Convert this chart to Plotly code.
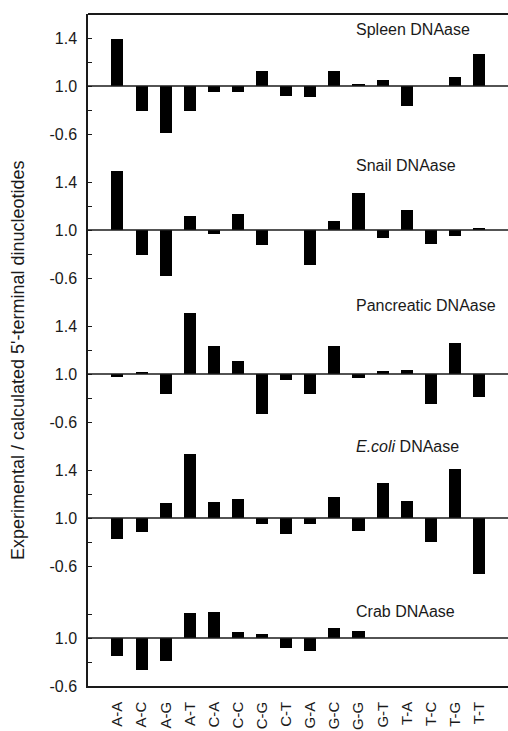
import plotly.graph_objects as go

# Dinucleotide categories along the x axis
dinucleotides = ["A-A", "A-C", "A-G", "A-T", "C-A", "C-C", "C-G", "C-T",
                 "G-A", "G-C", "G-G", "G-T", "T-A", "T-C", "T-G", "T-T"]

# Experimental / calculated ratios for each enzyme
spleen = [1.39, 0.79, 0.61, 0.79, 0.95, 0.95, 1.125, 0.92,
          0.905, 1.125, 1.014, 1.05, 0.833, 1.0, 1.072, 1.27]
snail = [1.49, 0.79, 0.614, 1.12, 0.967, 1.13, 0.878, 1.0,
         0.708, 1.072, 1.31, 0.933, 1.164, 0.88, 0.953, 1.02]
pancreatic = [0.978, 1.015, 0.83, 1.51, 1.236, 1.108, 0.67, 0.95,
              0.83, 1.235, 0.97, 1.025, 1.03, 0.75, 1.26, 0.81]
ecoli = [0.825, 0.886, 1.125, 1.53, 1.136, 1.158, 0.947, 0.864,
         0.95, 1.175, 0.89, 1.29, 1.14, 0.80, 1.41, 0.53]
crab = [0.847, 0.73, 0.81, 1.21, 1.215, 1.05, 1.035, 0.92,
        0.894, 1.083, 1.055, 1.0, 1.0, 1.0, 1.0, 1.0]

panel_names = ["Spleen DNAase", "Snail DNAase", "Pancreatic DNAase",
               "<i>E.coli</i> DNAase", "Crab DNAase"]
panel_values = [spleen, snail, pancreatic, ecoli, crab]

# y ranges of the stacked panels (top to bottom)
panel_ranges = [[0.4, 1.6], [0.4, 1.6], [0.4, 1.6], [0.4, 1.6], [0.6, 1.4]]
tick_vals = [0.4, 0.6, 0.8, 1.0, 1.2, 1.4, 1.6]
tick_text = {0.4: "", 0.6: "-0.6", 0.8: "", 1.0: "1.0", 1.2: "", 1.4: "1.4", 1.6: ""}
crab_tick_text = {0.6: "-0.6", 0.8: "", 1.0: "1.0", 1.2: "", 1.4: ""}
title_levels = [1.475, 1.54, 1.575, 1.60, 1.225]

FONT = "Liberation Sans, Arial, sans-serif"
INK = "#1a1a1a"

fig = go.Figure()

spans = [r[1] - r[0] for r in panel_ranges]
total = sum(spans)
top = 1.0
layout_axes = {}
for i, (vals, rng) in enumerate(zip(panel_values, panel_ranges)):
    k = i + 1
    yname = "y" if k == 1 else f"y{k}"
    lname = "yaxis" if k == 1 else f"yaxis{k}"
    h = (rng[1] - rng[0]) / total
    dom = [max(0.0, top - h), top]
    top -= h
    fig.add_trace(go.Bar(
        x=dinucleotides, y=[v - 1.0 for v in vals], base=1.0,
        width=0.5, marker=dict(color="black", line=dict(width=0)),
        xaxis="x", yaxis=yname,
    ))
    labels = crab_tick_text if i == 4 else tick_text
    tv = [t for t in tick_vals if rng[0] - 1e-9 <= t <= rng[1] + 1e-9]
    layout_axes[lname] = dict(
        domain=dom, range=rng, anchor="x",
        tickvals=tv, ticktext=[labels[t] for t in tv],
        ticks="inside", ticklen=4, tickwidth=1, tickcolor=INK,
        showline=True, linecolor=INK, linewidth=1.5,
        showgrid=False, zeroline=False, ticklabelstandoff=6,
        tickfont=dict(family=FONT, size=16, color=INK),
    )
    # baseline at ratio 1.0
    fig.add_shape(type="line", xref="paper", yref=yname,
                  x0=0, x1=1, y0=1.0, y1=1.0,
                  line=dict(color=INK, width=1.5))
    fig.add_annotation(xref="paper", yref=yname, x=0.633, y=title_levels[i],
                       text=panel_names[i], showarrow=False,
                       xanchor="left", yanchor="middle",
                       font=dict(family=FONT, size=16, color=INK))

# frame top line
fig.add_shape(type="line", xref="paper", yref="paper", x0=0, x1=1, y0=1, y1=1,
              line=dict(color=INK, width=2))

fig.add_annotation(xref="paper", yref="paper", x=-0.1667, y=0.485,
                   text="Experimental / calculated 5'-terminal dinucleotides",
                   textangle=-90, showarrow=False, xanchor="center", yanchor="middle",
                   font=dict(family=FONT, size=18, color=INK))

fig.update_layout(
    width=508, height=731,
    margin=dict(l=88, r=0, t=14, b=45),
    paper_bgcolor="white", plot_bgcolor="white",
    showlegend=False, bargap=0,
    xaxis=dict(
        range=[-1.22, 16.2], anchor="y5",
        categoryorder="array", categoryarray=dinucleotides,
        tickangle=-90, ticks="", showgrid=False, zeroline=False,
        showline=True, linecolor=INK, linewidth=1.5, ticklabelstandoff=8,
        tickfont=dict(family=FONT, size=15, color=INK),
    ),
    **layout_axes,
)

fig.write_html("out.html")
